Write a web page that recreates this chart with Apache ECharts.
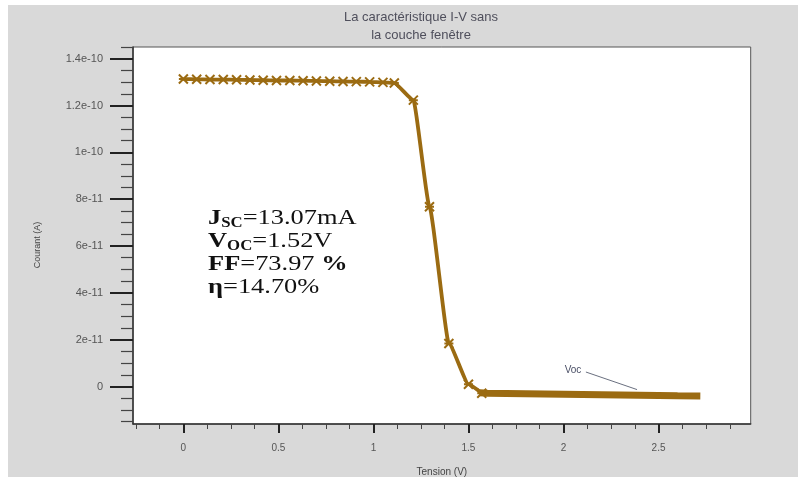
<!DOCTYPE html>
<html>
<head>
<meta charset="utf-8">
<script src="https://cdn.jsdelivr.net/npm/echarts@6/dist/echarts.min.js"></script>
<style>
  html, body { margin: 0; padding: 0; background: #ffffff; }
  #chart { width: 798px; height: 477px; }
</style>
</head>
<body>
<div id="chart"></div>
<script>
// I-V characteristic of the cell without window layer
const voltage = [0, 0.07, 0.14, 0.21, 0.28, 0.35, 0.42, 0.49, 0.56, 0.63, 0.70, 0.77, 0.84, 0.91, 0.98, 1.05, 1.11, 1.21, 1.295, 1.397, 1.50, 1.57];
const current = [1.313e-10, 1.312e-10, 1.311e-10, 1.311e-10, 1.310e-10, 1.309e-10, 1.308e-10, 1.307e-10, 1.307e-10, 1.306e-10, 1.305e-10, 1.304e-10, 1.303e-10, 1.302e-10, 1.301e-10, 1.299e-10, 1.296e-10, 1.223e-10, 7.68e-11, 1.84e-11, 1.0e-12, -2.9e-12];

// Dense reverse region beyond Voc (drawn as a thick band)
const tailVoltage = [1.56, 1.6, 1.7, 1.8, 1.9, 2.0, 2.1, 2.2, 2.3, 2.4, 2.5, 2.6, 2.72];
const tailCurrent = [-2.7e-12, -2.9e-12, -3.0e-12, -3.1e-12, -3.2e-12, -3.3e-12, -3.4e-12, -3.5e-12, -3.6e-12, -3.7e-12, -3.8e-12, -3.9e-12, -4.0e-12];

// Axis ticks and labels
const xTickValues = [0, 0.5, 1, 1.5, 2, 2.5];
const xTickLabels = ['0', '0.5', '1', '1.5', '2', '2.5'];
const yTickValues = [0, 2e-11, 4e-11, 6e-11, 8e-11, 1e-10, 1.2e-10, 1.4e-10];
const yTickLabels = ['0', '2e-11', '4e-11', '6e-11', '8e-11', '1e-10', '1.2e-10', '1.4e-10'];

const titleLines = ['La caractéristique I-V sans', 'la couche fenêtre'];
const xName = 'Tension (V)';
const yName = 'Courant (A)';
const vocLabel = 'Voc';

const X_MIN = -0.265, X_MAX = 2.985;
const Y_MIN = -1.6e-11, Y_MAX = 1.45e-10;

// minor tick positions between the labelled ticks
const xMinor = [];
for (let k = -2; k <= 23; k++) { if (k % 4 !== 0) xMinor.push(k * 0.125); }
const yMinor = [];
for (let k = -3; k <= 29; k++) { if (k % 4 !== 0) yMinor.push(k * 5e-12); }

function nearestLabel(values, labels, v) {
  let best = 0;
  for (let i = 1; i < values.length; i++) {
    if (Math.abs(values[i] - v) < Math.abs(values[best] - v)) best = i;
  }
  return labels[best];
}

const lineColor = '#9b6b12';
const crossPath = 'path://M0,0L10,10M10,0L0,10M0,5L10,5';

const chart = echarts.init(document.getElementById('chart'), null, { renderer: 'canvas' });

const option = {
  animation: false,
  backgroundColor: '#ffffff',
  title: {
    text: titleLines.join('\n'),
    left: 416,
    top: 3,
    textAlign: 'center',
    textStyle: { fontFamily: 'Liberation Sans', fontSize: 13, fontWeight: 'normal', color: '#4f4f5c', lineHeight: 18 }
  },
  grid: {
    left: 133, top: 47, width: 617.7, height: 377,
    outerBoundsMode: 'none',
    containLabel: false,
    show: true, backgroundColor: '#ffffff', borderColor: '#555', borderWidth: 1
  },
  xAxis: [
    {
      type: 'value', min: X_MIN, max: X_MAX, position: 'bottom',
      name: xName, nameLocation: 'middle', nameGap: 43,
      nameTextStyle: { fontFamily: 'Liberation Sans', fontSize: 10, color: '#444' },
      axisLine: { show: true, onZero: false, lineStyle: { color: '#333', width: 1.5 } },
      axisTick: { show: true, customValues: xTickValues, length: 9, lineStyle: { color: '#222', width: 2 } },
      axisLabel: {
        customValues: xTickValues, margin: 19, fontFamily: 'Liberation Sans', fontSize: 10, color: '#555',
        formatter: v => nearestLabel(xTickValues, xTickLabels, v)
      },
      splitLine: { show: false }
    },
    {
      type: 'value', min: X_MIN, max: X_MAX, position: 'bottom',
      axisLine: { show: false, onZero: false },
      axisTick: { show: true, customValues: xMinor, length: 5, lineStyle: { color: '#444', width: 1 } },
      axisLabel: { show: false },
      splitLine: { show: false }
    }
  ],
  yAxis: [
    {
      type: 'value', min: Y_MIN, max: Y_MAX, position: 'left',
      axisLine: { show: true, onZero: false, lineStyle: { color: '#333', width: 1.5 } },
      axisTick: { show: true, customValues: yTickValues, length: 23, lineStyle: { color: '#222', width: 2 } },
      axisLabel: {
        customValues: yTickValues, margin: 30, fontFamily: 'Liberation Sans', fontSize: 11, color: '#555',
        formatter: v => nearestLabel(yTickValues, yTickLabels, v)
      },
      splitLine: { show: false }
    },
    {
      type: 'value', min: Y_MIN, max: Y_MAX, position: 'left',
      axisLine: { show: false, onZero: false },
      axisTick: { show: true, customValues: yMinor, length: 12, lineStyle: { color: '#444', width: 1.2 } },
      axisLabel: { show: false },
      splitLine: { show: false }
    }
  ],
  series: [
    {
      type: 'line',
      xAxisIndex: 0, yAxisIndex: 0,
      data: voltage.map((v, i) => [v, current[i]]),
      smooth: 0.15, smoothMonotone: 'x',
      symbol: crossPath, symbolSize: [9, 9],
      itemStyle: { color: 'rgba(0,0,0,0)', borderColor: lineColor, borderWidth: 2 },
      lineStyle: { color: lineColor, width: 3.8 },
      z: 3
    },
    {
      type: 'line',
      xAxisIndex: 0, yAxisIndex: 0,
      data: tailVoltage.map((v, i) => [v, tailCurrent[i]]),
      symbol: 'none',
      lineStyle: { color: lineColor, width: 7 },
      z: 3
    }
  ]
};

chart.setOption(option);

// Annotation: Voc label with leader line, anchored in data coordinates
const vocText = chart.convertToPixel({ gridIndex: 0 }, [2.05, 7.0e-12]);
const vocFrom = chart.convertToPixel({ gridIndex: 0 }, [2.118, 6.2e-12]);
const vocTo = chart.convertToPixel({ gridIndex: 0 }, [2.387, -1.3e-12]);

chart.setOption({
  graphic: [
    {
      type: 'rect', silent: true, z: -10,
      shape: { x: 8, y: 5, width: 790, height: 472 },
      style: { fill: '#d9d9d9' }
    },
    {
      type: 'line', silent: true, z: 10,
      shape: { x1: vocFrom[0], y1: vocFrom[1], x2: vocTo[0], y2: vocTo[1] },
      style: { stroke: '#6a7080', lineWidth: 1 }
    },
    {
      type: 'text', silent: true, z: 10,
      x: vocText[0], y: vocText[1],
      style: { text: vocLabel, fontFamily: 'Liberation Sans', fontSize: 10, fill: '#4a4f66', align: 'center', verticalAlign: 'middle' }
    },
    {
      type: 'text', silent: true, z: 10,
      x: 38, y: 245, rotation: Math.PI / 2,
      style: { text: yName, fontFamily: 'Liberation Sans', fontSize: 9, fill: '#444', align: 'center', verticalAlign: 'middle' }
    },
    {
      type: 'text', silent: true, z: 10,
      x: 208, y: 207, scaleX: 1.2, scaleY: 1,
      style: {
        text: '{b|J}{s|SC}{r|=13.07mA}\n{b|V}{s|OC}{r|=1.52V}\n{b|FF}{r|=73.97 }{b|%}\n{b|η}{r|=14.70%}',
        fill: '#111',
        rich: {
          b: { fontFamily: 'Liberation Serif', fontSize: 22, fontWeight: 'bold', lineHeight: 23, verticalAlign: 'middle', fill: '#111' },
          r: { fontFamily: 'Liberation Serif', fontSize: 22, fontWeight: 'normal', lineHeight: 23, verticalAlign: 'middle', fill: '#111' },
          s: { fontFamily: 'Liberation Serif', fontSize: 14, fontWeight: 'bold', lineHeight: 12, verticalAlign: 'bottom', fill: '#111' }
        }
      }
    }
  ]
});
</script>
</body>
</html>
